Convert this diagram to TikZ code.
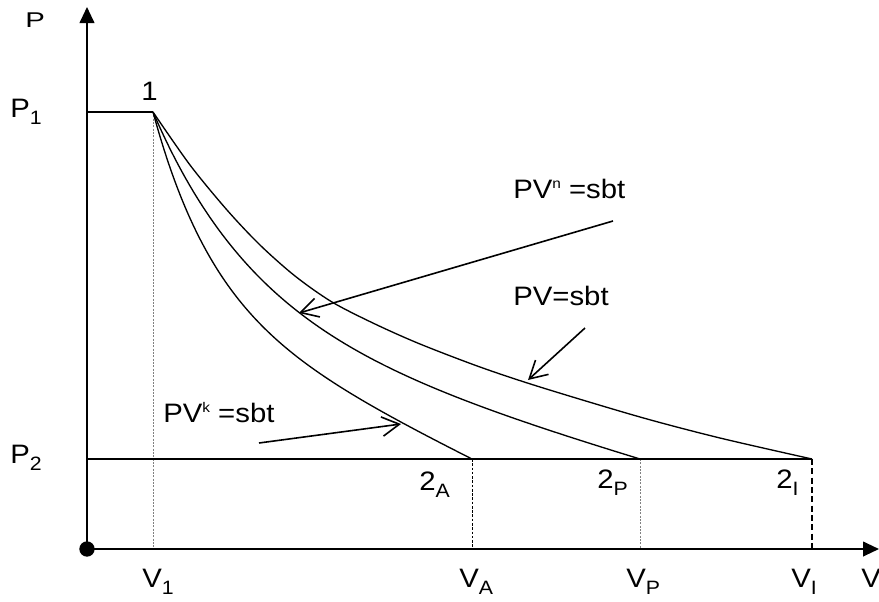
\documentclass[tikz,border=0pt]{standalone}
\usepackage{fontspec}
\setmainfont{Liberation Sans}[FakeStretch=1.1]
\usetikzlibrary{arrows.meta}
\newcommand\lsub[1]{\raisebox{-5.3pt}{\fontsize{14.5pt}{15pt}\selectfont #1}}
\newcommand\lsup[1]{\raisebox{7.5pt}{\fontsize{10.5pt}{11pt}\selectfont #1}}
\begin{document}
\begin{tikzpicture}[x=0.75pt,y=-0.75pt,
  lbl/.style={anchor=base west, inner sep=0pt, font=\fontsize{20pt}{24pt}\selectfont},
  axis/.style={line width=1.5pt, -{Triangle[length=12pt,width=11pt]}},
  level/.style={line width=1.1pt},
  curve/.style={line width=1pt, line join=round},
  pointer/.style={line width=1.2pt, -{Straight Barb[length=13pt,width=14.5pt,line width=1.2pt]}},
  graydot/.style={gray, line width=0.6pt, dash pattern=on 1.5pt off 1pt},
  blackdot/.style={black, line width=0.6pt, dash pattern=on 2pt off 1.2pt},
  blackdash/.style={black, line width=0.8pt, dash pattern=on 4.5pt off 2.5pt}]
\useasboundingbox (0,0) rectangle (879,601);

% key points
\coordinate (O) at (87,549);
\coordinate (ytip) at (87,7);
\coordinate (xtip) at (879,549);
\coordinate (p1) at (87,112);
\coordinate (one) at (153,112);
\coordinate (p2) at (87,459);
\coordinate (twoA) at (472,459);
\coordinate (twoP) at (640,459);
\coordinate (twoI) at (812,459);
\coordinate (v1) at (153,549);
\coordinate (vA) at (472,549);
\coordinate (vP) at (640,549);
\coordinate (vI) at (812,549);

% guide lines
\draw[graydot] (one) -- (v1);
\draw[blackdot] (twoA) -- (vA);
\draw[graydot] (twoP) -- (vP);
\draw[blackdash] (twoI) -- (vI);

% levels
\draw[level] (p1) -- (one);
\draw[level] (p2) -- (twoI);

% curves
\draw[curve] plot[smooth] coordinates {(153,112) (190,165) (227,210) (260,245) (295,276) (332,302) (375,324) (420,344) (480,367) (540,387) (640,417) (720,438) (812,459)};
\draw[curve] plot[domain=153:640, samples=120] (\x, {112+207.9*(1-exp(-(\x-153)/102))+0.2892*(\x-153)});
\draw[curve] plot[domain=153:472, samples=120] (\x, {112+191.5*(1-exp(-(\x-153)/60))+0.4904*(\x-153)});

% axes
\draw[axis] (O) -- (ytip);
\draw[axis] (O) -- (xtip);
\node[circle, fill=black, inner sep=0pt, minimum size=11.5pt] (origin) at (O) {};

% pointer arrows
\coordinate (nS) at (613,221);
\coordinate (nT) at (299,313);
\coordinate (iS) at (585,328);
\coordinate (iT) at (528,380);
\coordinate (kS) at (259,443);
\coordinate (kT) at (401,424);
\draw[pointer] (nS) -- (nT);
\draw[pointer] (iS) -- (iT);
\draw[pointer] (kS) -- (kT);

% labels
\node[lbl] (lP) at (25,27) {\scalebox{1}[0.8]{P}};
\node[lbl] (lP1) at (10,117) {P\lsub{1}};
\node[lbl] (l1) at (141,100) {1};
\node[lbl] (lP2) at (10,463) {P\lsub{2}};
\node[lbl] (lV1) at (142,587) {V\lsub{1}};
\node[lbl] (lVA) at (459,587) {V\lsub{A}};
\node[lbl] (lVP) at (626,587) {V\lsub{P}};
\node[lbl] (lVI) at (791,587) {V\lsub{I}};
\node[lbl] (lV) at (861,587) {V};
\node[lbl] (l2A) at (419,490) {2\lsub{A}};
\node[lbl] (l2P) at (597,488) {2\lsub{P}};
\node[lbl] (l2I) at (776,488) {2\lsub{I}};
\node[lbl] (tk) at (163,422) {PV\lsup{k} =sbt};
\node[lbl] (tn) at (513,198) {PV\lsup{n} =sbt};
\node[lbl] (ti) at (513,305) {PV=sbt};
\end{tikzpicture}
\end{document}
